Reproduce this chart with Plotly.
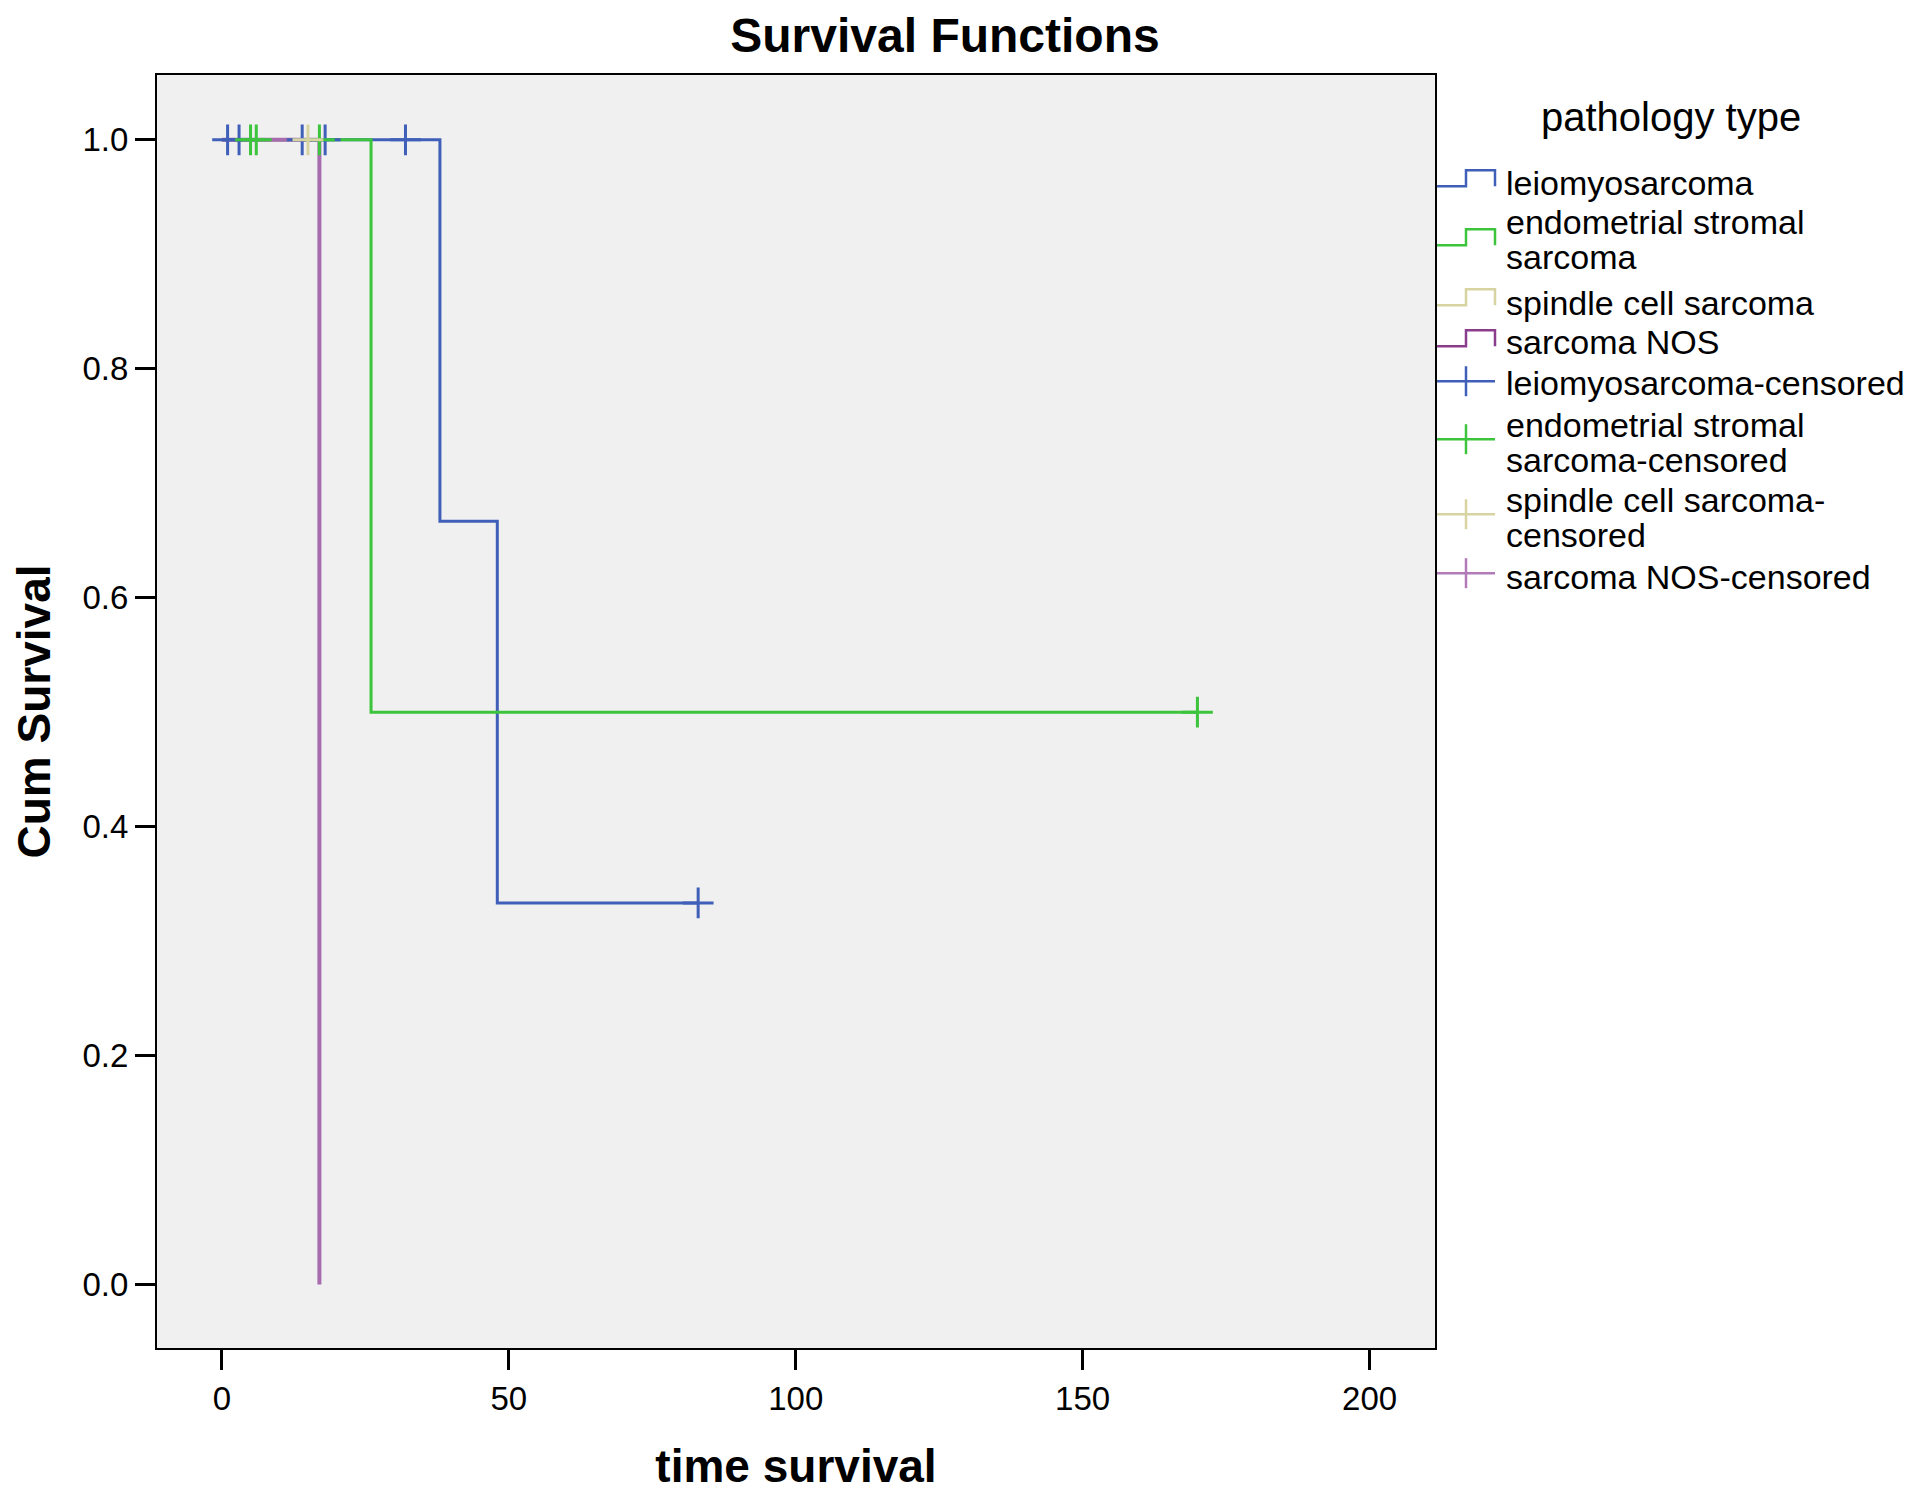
import plotly.graph_objects as go

# ---- data ----
groups = ["leiomyosarcoma", "endometrial stromal<br>sarcoma", "spindle cell sarcoma", "sarcoma NOS"]
censor_labels = ["leiomyosarcoma-censored", "endometrial stromal<br>sarcoma-censored",
                 "spindle cell sarcoma-<br>censored", "sarcoma NOS-censored"]
legend_title = "pathology type"
colors = ["#3f5fb8", "#3cc43c", "#d8d4a2", "#a66cae"]
legend_colors = ["#3f5fb8", "#3cc43c", "#d8d4a2", "#8c3c8c"]
censor_colors = ["#3f5fb8", "#3cc43c", "#d8d4a2", "#b27ab8"]

# step curves (time, cumulative survival)
leio_t = [0, 38, 48, 83]
leio_s = [1.0, 0.6667, 0.3333, 0.3333]
ess_t = [0, 26, 170]
ess_s = [1.0, 0.5, 0.5]
spindle_t = [0, 15]
spindle_s = [1.0, 1.0]
nos_t = [0, 17]
nos_s = [1.0, 0.0]

# censored observations
leio_ct = [1, 3, 14, 18, 32, 83]
leio_cs = [1, 1, 1, 1, 1, 0.3333]
ess_ct = [5, 6, 17, 170]
ess_cs = [1, 1, 1, 0.5]
spindle_ct = [15]
spindle_cs = [1]
nos_ct = []
nos_cs = []

x_ticks = [0, 50, 100, 150, 200]
y_ticks = [0.0, 0.2, 0.4, 0.6, 0.8, 1.0]

curves = [(leio_t, leio_s), (ess_t, ess_s), (spindle_t, spindle_s), (nos_t, nos_s)]
censors = [(leio_ct, leio_cs), (ess_ct, ess_cs), (spindle_ct, spindle_cs), (nos_ct, nos_cs)]

FONT = "Liberation Sans, Arial, sans-serif"
fig = go.Figure()

line_widths = [3, 3, 3, 4]
for name, (t, s), c, w in zip(groups, curves, colors, line_widths):
    fig.add_trace(go.Scatter(x=t, y=s, mode="lines", line=dict(shape="hv", color=c, width=w),
                             name=name.replace("<br>", " "), showlegend=False))

for name, (t, s), c in zip(censor_labels, censors, censor_colors):
    if len(t):
        fig.add_trace(go.Scatter(x=t, y=s, mode="markers", showlegend=False,
                                 name=name.replace("<br>", " "),
                                 marker=dict(symbol="cross-thin", size=22, color=c,
                                             line=dict(color=c, width=3))))

# ---- manual legend (positions in page pixels, converted to paper coords) ----
PL, PR, PT, PB = 157.0, 1435.0, 74.7, 1348.0
def px(x):
    return (x - PL) / (PR - PL)
def py(y):
    return (PB - y) / (PB - PT)

shapes = []
annotations = []
annotations.append(dict(text=legend_title, x=px(1671), y=py(117), xref="paper", yref="paper",
                        xanchor="center", yanchor="middle", showarrow=False,
                        font=dict(family=FONT, size=40, color="black")))

step_rows = [(186, [183]), (245, [222, 257]), (305, [303]), (346, [342])]
for (low, text_ys), label, c in zip(step_rows, groups, legend_colors):
    high = low - 16
    path = (f"M {px(1437)} {py(low)} L {px(1466)} {py(low)} L {px(1466)} {py(high)} "
            f"L {px(1495)} {py(high)} L {px(1495)} {py(low)}")
    shapes.append(dict(type="path", path=path, xref="paper", yref="paper",
                       line=dict(color=c, width=2.5)))
    for ty, part in zip(text_ys, label.split("<br>")):
        annotations.append(dict(text=part, x=px(1504), y=py(ty), xref="paper", yref="paper",
                                xanchor="left", yanchor="middle", showarrow=False,
                                font=dict(family=FONT, size=34, color="black")))

cens_rows = [(381, [383]), (439, [425, 460]), (514, [500, 535]), (573, [577])]
for (ly, text_ys), label, c in zip(cens_rows, censor_labels, censor_colors):
    shapes.append(dict(type="line", x0=px(1437), x1=px(1495), y0=py(ly), y1=py(ly),
                       xref="paper", yref="paper", line=dict(color=c, width=2.5)))
    shapes.append(dict(type="line", x0=px(1466), x1=px(1466), y0=py(ly - 15), y1=py(ly + 15),
                       xref="paper", yref="paper", line=dict(color=c, width=2.5)))
    for ty, part in zip(text_ys, label.split("<br>")):
        annotations.append(dict(text=part, x=px(1504), y=py(ty), xref="paper", yref="paper",
                                xanchor="left", yanchor="middle", showarrow=False,
                                font=dict(family=FONT, size=34, color="black")))

axis_common = dict(showgrid=False, zeroline=False, showline=True, linecolor="black", linewidth=2,
                   mirror=True, ticks="outside", ticklen=20, tickwidth=2.5, tickcolor="black",
                   tickfont=dict(family=FONT, size=33, color="black"))

fig.update_xaxes(range=[-11.3, 211.4], tickvals=x_ticks, ticktext=[str(v) for v in x_ticks],
                 title=dict(text="<b>time survival</b>", font=dict(family=FONT, size=46, color="black"),
                            standoff=34), **axis_common)
fig.update_yaxes(range=[-0.0555, 1.0566], tickvals=y_ticks, ticktext=[f"{v:.1f}" for v in y_ticks],
                 title=dict(text="<b>Cum Survival</b>", font=dict(family=FONT, size=46, color="black"),
                            standoff=17), **axis_common)

# page has an 8px body margin, so figure coords = page coords - 8
fig.update_layout(
    width=1920, height=1498,
    paper_bgcolor="white", plot_bgcolor="#f0f0f0",
    margin=dict(l=149, r=493, t=67, b=158, autoexpand=False),
    title=dict(text="<b>Survival Functions</b>", x=937 / 1920, xanchor="center",
               y=1 - 27 / 1498, yanchor="middle",
               font=dict(family=FONT, size=48, color="black")),
    showlegend=False,
    shapes=shapes,
    annotations=annotations,
)

fig.write_html("out.html")
